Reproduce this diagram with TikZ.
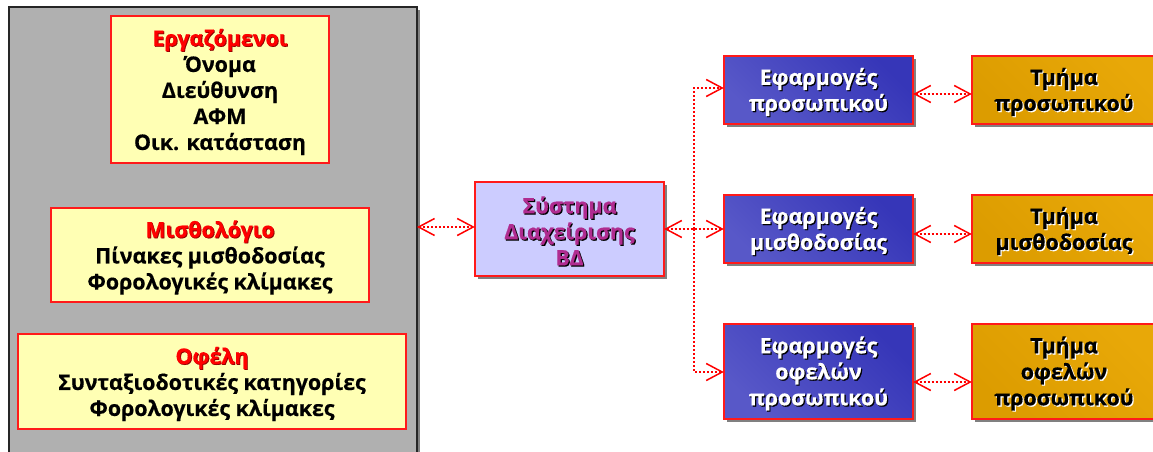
\documentclass[tikz,border=0pt]{standalone}
\usepackage{fontspec}
\setmainfont[BoldFeatures={FakeBold=0.5}]{Open Sans}
\usetikzlibrary{arrows.meta}
\definecolor{linered}{HTML}{FF1A1A}
\definecolor{panelgrey}{HTML}{B0B0B0}
\definecolor{shadowgrey}{HTML}{808080}
\definecolor{paleyellow}{HTML}{FFFFB4}
\definecolor{lilac}{HTML}{CCCCFF}
\definecolor{magentatext}{HTML}{B02C90}
\definecolor{bluelow}{HTML}{5858C8}
\definecolor{bluehigh}{HTML}{3636B8}
\definecolor{orangelow}{HTML}{DC9C00}
\definecolor{orangehigh}{HTML}{E8A808}
\newcommand{\shd}[3]{\leavevmode\rlap{\raisebox{-1.2pt}{\kern1.2pt\color{#2}#3}}{\color{#1}#3}}
\newcommand{\hd}[1]{\leavevmode\rlap{\raisebox{-.8pt}{\kern.8pt\color{red!55!black}#1}}{\color{red}#1}}
\newcommand{\sy}[1]{\shd{magentatext}{black}{#1}}
\newcommand{\wh}[1]{\shd{white}{black}{#1}}
\newcommand{\bk}[1]{\shd{black}{white}{#1}}
\tikzset{
  x=1pt,y=-1pt,
  txt/.style={font=\fontsize{21.4}{26}\selectfont\bfseries,align=center,text=black},
  box/.style={draw=linered,line width=1.3pt,minimum width=0,inner sep=0pt},
  yellowbox/.style={box,fill=paleyellow},
  link/.style={draw=red,line width=2pt,dash pattern=on 2pt off 2pt,
    {Straight Barb[length=16pt,width=17pt,line width=1.5pt]}-{Straight Barb[length=16pt,width=17pt,line width=1.5pt]}},
  linkone/.style={draw=red,line width=2pt,dash pattern=on 2pt off 2pt,
    -{Straight Barb[length=16pt,width=17pt,line width=1.5pt]}},
  bluebox/.style={box,shading=axis,bottom color=bluelow,top color=bluehigh,shading angle=-45},
  orangebox/.style={box,shading=axis,bottom color=orangelow,top color=orangehigh,shading angle=-45}
}
\newcommand{\rbox}[7]{%
  % name, style, x0,y0,x1,y1, text
  \fill[shadowgrey] (#3+3,#4+3) rectangle (#5+3,#6+3);
  \path[#2] (#3,#4) rectangle (#5,#6);
  \node[txt,inner sep=0pt,minimum width=#5pt-#3pt,minimum height=#6pt-#4pt] (#1) at ({(#3+#5)/2},{(#4+#6)/2+2.5}) {#7};
}
\newcommand{\ybox}[7]{%
  \path[#2] (#3,#4) rectangle (#5,#6);
  \node[txt,inner sep=0pt,minimum width=#5pt-#3pt,minimum height=#6pt-#4pt] (#1) at ({(#3+#5)/2},{(#4+#6)/2+2.5}) {#7};
}
\begin{document}
\begin{tikzpicture}
\useasboundingbox (0,0) rectangle (1153,452);
\begin{scope}
\clip (0,0) rectangle (1153,452);
\fill[shadowgrey] (12,10) rectangle (420,460);
\node[draw=black!85,line width=1.6pt,fill=panelgrey,inner sep=0pt,minimum width=408pt,minimum height=460pt,anchor=north west] (panel) at (8,6) {};

\ybox{emp}{yellowbox}{111}{16}{329}{163}{\hd{Εργαζόμενοι}\\Όνομα\\Διεύθυνση\\ΑΦΜ\\Οικ. κατάσταση}
\ybox{pay}{yellowbox}{51}{208}{369}{302}{\hd{Μισθολόγιο}\\Πίνακες μισθοδοσίας\\Φορολογικές κλίμακες}
\ybox{ben}{yellowbox}{18}{334}{406}{429}{\hd{Οφέλη}\\Συνταξιοδοτικές κατηγορίες\\Φορολογικές κλίμακες}

\rbox{sys}{box,fill=lilac}{475}{182}{664}{276}{\sy{Σύστημα}\\\sy{Διαχείρισης}\\\sy{ΒΔ}}

\rbox{appa}{bluebox}{724}{56}{913}{124}{\wh{Εφαρμογές}\\\wh{προσωπικού}}
\rbox{appb}{bluebox}{724}{195}{913}{263}{\wh{Εφαρμογές}\\\wh{μισθοδοσίας}}
\rbox{appc}{bluebox}{724}{324}{913}{419}{\wh{Εφαρμογές}\\\wh{οφελών}\\\wh{προσωπικού}}

\rbox{depa}{orangebox}{972}{56}{1156}{124}{\bk{Τμήμα}\\\bk{προσωπικού}}
\rbox{depb}{orangebox}{972}{195}{1156}{263}{\bk{Τμήμα}\\\bk{μισθοδοσίας}}
\rbox{depc}{orangebox}{972}{324}{1156}{419}{\bk{Τμήμα}\\\bk{οφελών}\\\bk{προσωπικού}}
\end{scope}

\coordinate (trunk) at (694,229);
\coordinate (pe) at (417,227);
\draw[link] (pe) -- (sys.west|-pe);
\draw[link] (sys.east|-trunk) -- (appb.west|-trunk);
\draw[linkone] (trunk) |- (appa.west|-0,88);
\draw[linkone] (trunk) |- (appc.west|-0,372);
\draw[link] (appa.east|-0,94) -- (depa.west|-0,94);
\draw[link] (appb.east|-0,234) -- (depb.west|-0,234);
\draw[link] (appc.east|-0,382) -- (depc.west|-0,382);
\end{tikzpicture}
\end{document}
